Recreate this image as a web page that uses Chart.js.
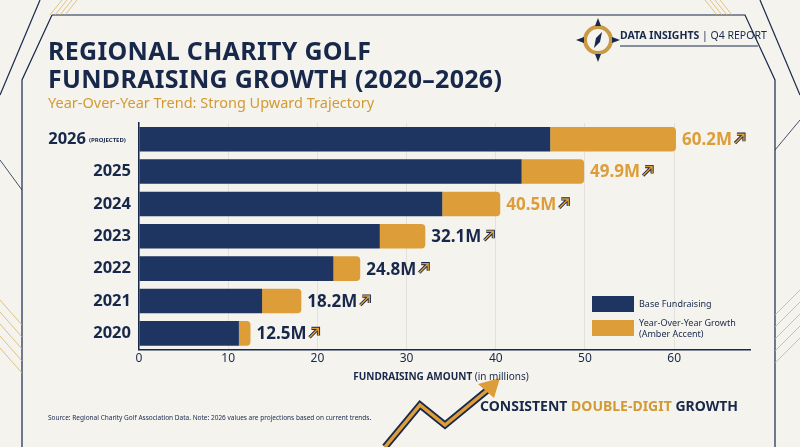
<!DOCTYPE html>
<html><head><meta charset="utf-8">
<script src="https://cdn.jsdelivr.net/npm/chart.js@4"></script>
<style>
body{margin:0;background:#f5f3ee;font-family:Montserrat,"Noto Sans",sans-serif;}
#wrap{position:relative;width:800px;height:447px;overflow:hidden;}
canvas{position:absolute;left:0;top:0;}
.t{position:absolute;white-space:nowrap;}
</style></head><body>
<div id="wrap">
<canvas id="c" width="800" height="447"></canvas>
<div class="t" style="left:48px;top:36px;font:700 25px 'Noto Sans';color:#17284a;line-height:28px;letter-spacing:0.3px">REGIONAL CHARITY GOLF<br>FUNDRAISING GROWTH (2020–2026)</div>
<div class="t" style="left:48px;top:92px;font:400 14.5px 'Noto Sans';color:#d29a32">Year-Over-Year Trend: Strong Upward Trajectory</div>
<div class="t" style="left:620px;top:28px;font:700 10.5px 'Noto Sans';color:#17284a">DATA INSIGHTS <span style="font-weight:400">| Q4 REPORT</span></div>
<div class="t" style="left:48px;top:413px;font:400 6.5px 'Noto Sans';color:#17284a">Source: Regional Charity Golf Association Data. Note: 2026 values are projections based on current trends.</div>
<div class="t" style="left:480px;top:396px;font:700 14px 'Noto Sans';color:#17284a">CONSISTENT <span style="color:#d29a32">DOUBLE-DIGIT</span> GROWTH</div>
</div>
<script>
const categories=["2026","2025","2024","2023","2022","2021","2020"];
const baseValues=[46.1,42.9,34.0,27.0,21.8,13.8,11.2];
const growthValues=[14.1,7.0,6.5,5.1,3.0,4.4,1.3];
const totalLabels=["60.2M","49.9M","40.5M","32.1M","24.8M","18.2M","12.5M"];
const xTicks=[0,10,20,30,40,50,60];
const NAVY="#1d3560",AMBER="#dd9d39",DARK="#17284a";

function arrow(ctx,x,y){ctx.save();ctx.strokeStyle=DARK;ctx.lineWidth=3.2;ctx.beginPath();ctx.moveTo(x,y+9);ctx.lineTo(x+9,y);ctx.moveTo(x+2,y);ctx.lineTo(x+9,y);ctx.lineTo(x+9,y+7);ctx.stroke();
ctx.strokeStyle=AMBER;ctx.lineWidth=1.4;ctx.stroke();ctx.restore();}

const deco={id:'deco',beforeDraw(ch){const c=ch.ctx;c.save();
c.strokeStyle=DARK;c.lineWidth=1.2;
c.beginPath();c.moveTo(52,15);c.lineTo(745,15);c.lineTo(775,80);c.lineTo(775,447);c.stroke();
c.beginPath();c.moveTo(52,15);c.lineTo(22,80);c.lineTo(22,447);c.stroke();
c.beginPath();c.moveTo(0,95);c.lineTo(40,0);c.stroke();
c.beginPath();c.moveTo(800,95);c.lineTo(760,0);c.stroke();
c.strokeStyle="#d9b46a";c.lineWidth=0.8;
for(let i=0;i<4;i++){c.beginPath();c.moveTo(62+i*5,0);c.lineTo(50+i*5,15);c.stroke();c.beginPath();c.moveTo(705+i*5,0);c.lineTo(717+i*5,15);c.stroke();}
for(let i=0;i<5;i++){c.beginPath();c.moveTo(0,300+i*12);c.lineTo(22,325+i*12);c.stroke();c.beginPath();c.moveTo(800,290+i*12);c.lineTo(775,315+i*12);c.stroke();}
c.strokeStyle=DARK;c.beginPath();c.moveTo(0,160);c.lineTo(22,190);c.stroke();c.beginPath();c.moveTo(800,120);c.lineTo(775,150);c.stroke();
c.translate(598,40);c.fillStyle="#c99a45";c.beginPath();c.arc(0,0,15,0,7);c.fill();c.fillStyle="#f5f3ee";c.beginPath();c.arc(0,0,11,0,7);c.fill();
c.fillStyle=DARK;c.beginPath();c.moveTo(0,-22);c.lineTo(3,-14);c.lineTo(-3,-14);c.fill();c.beginPath();c.moveTo(0,22);c.lineTo(3,14);c.lineTo(-3,14);c.fill();
c.beginPath();c.moveTo(-22,0);c.lineTo(-14,3);c.lineTo(-14,-3);c.fill();c.beginPath();c.moveTo(22,0);c.lineTo(14,3);c.lineTo(14,-3);c.fill();
c.beginPath();c.moveTo(4,-8);c.lineTo(2,2);c.lineTo(-4,8);c.lineTo(-2,-2);c.fill();
c.setTransform(1,0,0,1,0,0);c.strokeStyle=DARK;c.lineWidth=1;c.beginPath();c.moveTo(620,46);c.lineTo(758,46);c.stroke();
c.strokeStyle=DARK;c.lineWidth=7;c.beginPath();c.moveTo(385,447);c.lineTo(420,405);c.lineTo(445,425);c.lineTo(490,388);c.stroke();
c.strokeStyle=AMBER;c.lineWidth=3.5;c.stroke();
c.fillStyle=AMBER;c.beginPath();c.moveTo(500,378);c.lineTo(478,384);c.lineTo(494,398);c.fill();
c.restore();},
afterDatasetsDraw(ch){const c=ch.ctx,y=ch.scales.y,x=ch.scales.x;c.save();
categories.forEach((cat,i)=>{const yy=y.getPixelForValue(i);c.fillStyle=DARK;c.textBaseline='middle';c.textAlign='right';
c.font="700 16.5px 'Noto Sans'";
if(i===0){c.fillText(cat,86,yy);c.font="700 6px 'Noto Sans'";c.textAlign='left';c.fillText("(PROJECTED)",89,yy+1);}else c.fillText(cat,131,yy);
const xe=x.getPixelForValue(baseValues[i]+growthValues[i]);c.textAlign='left';c.font="700 17px 'Noto Sans'";
c.fillStyle=i<3?AMBER:DARK;c.fillText(totalLabels[i],xe+6,yy+1);const w=c.measureText(totalLabels[i]).width;arrow(c,xe+9+w,yy-5);});
c.fillStyle=NAVY;c.fillRect(592,296,42,16);c.fillStyle=AMBER;c.fillRect(592,320,42,16);
c.fillStyle=DARK;c.font="400 9px 'Noto Sans'";c.textAlign='left';c.textBaseline='middle';
c.fillText("Base Fundraising",639,304);c.fillText("Year-Over-Year Growth",639,323);c.fillText("(Amber Accent)",639,334);
c.font="700 10px 'Noto Sans'";const t1="FUNDRAISING AMOUNT ";c.fillStyle=DARK;
const w1=c.measureText(t1).width;c.font="400 10px 'Noto Sans'";const w2=c.measureText("(in millions)").width;const sx=441-(w1+w2)/2;
c.font="700 10px 'Noto Sans'";c.fillText(t1,sx,377);c.font="400 10px 'Noto Sans'";c.fillText("(in millions)",sx+w1,377);
c.restore();}};

new Chart(document.getElementById('c'),{type:'bar',
data:{labels:categories,datasets:[
{label:'Base Fundraising',data:baseValues,backgroundColor:NAVY,barPercentage:0.76,categoryPercentage:1},
{label:'Year-Over-Year Growth',data:growthValues,backgroundColor:AMBER,barPercentage:0.76,categoryPercentage:1,borderRadius:{topRight:4,bottomRight:4},borderSkipped:false}]},
options:{indexAxis:'y',responsive:false,animation:false,devicePixelRatio:1,
layout:{padding:{left:139,right:50,top:123,bottom:79}},
plugins:{legend:{display:false},tooltip:{enabled:false}},
scales:{x:{stacked:true,min:0,max:68.5,afterBuildTicks:a=>{a.ticks=xTicks.map(v=>({value:v}));},
ticks:{color:DARK,font:{size:12,family:'Noto Sans'},padding:2},grid:{color:'#e4e1da',drawTicks:false},border:{color:DARK,width:1.5}},
y:{stacked:true,afterFit:s=>{s.width=0;},ticks:{display:false},grid:{display:false},border:{color:DARK,width:1.5}}}},
plugins:[deco]});
</script></body></html>
